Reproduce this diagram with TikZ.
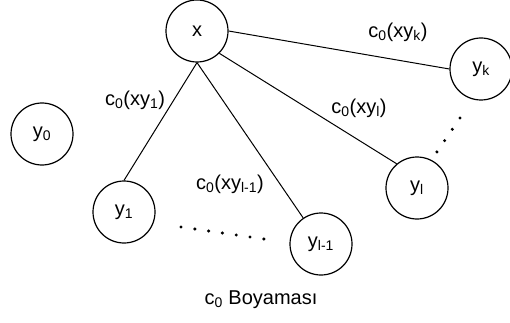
\documentclass[tikz,border=0pt]{standalone}
\usepackage{fontspec}
\setmainfont{Liberation Sans}
\begin{document}
\begin{tikzpicture}[x=1pt,y=-1pt,
  vertex/.style={circle,draw,line width=1.2pt,minimum size=62pt,inner sep=0pt},
  edge/.style={line width=1pt},
  lbl/.style={inner sep=0pt},
  dot/.style={circle,fill,inner sep=0pt,minimum size=3.4pt},
  every node/.style={font=\fontsize{20}{24}\selectfont}]
\useasboundingbox (0,0) rectangle (510,323);
% vertices
\node[vertex] (x)   at (197,31)  {x};
\node[vertex] (y0)  at (42,134)  {y\textsubscript{0}};
\node[vertex] (y1)  at (124,212) {y\textsubscript{1}};
\node[vertex] (yl1) at (321,244) {y\textsubscript{l-1}};
\node[vertex] (yl)  at (417,188) {y\textsubscript{l}};
\node[vertex] (yk)  at (481,69)  {y\textsubscript{k}};
% edges from x
\draw[edge] (x.south) -- (y1.north);
\draw[edge] (x.south) -- (yl1);
\draw[edge] (x.-45) -- (yl.130);
\draw[edge] (x.east) -- (yk.west);
% edge colour labels
\node[lbl] (l1)  at (135,100) {c\textsubscript{0}(xy\textsubscript{1})};
\node[lbl] (ll1) at (230,184) {c\textsubscript{0}(xy\textsubscript{l-1})};
\node[lbl] (ll)  at (359,108) {c\textsubscript{0}(xy\textsubscript{l})};
\node[lbl] (lk)  at (398,32)  {c\textsubscript{0}(xy\textsubscript{k})};
% ellipsis dots
\foreach \i in {0,...,6}
  \node[dot] (b\i) at (181+13.8*\i,227+2*\i) {};
\foreach \i in {0,...,3}
  \node[dot] (r\i) at (460-7.7*\i,118+11.3*\i) {};
% caption
\node[lbl] (cap) at (261,300) {c\textsubscript{0} Boyaması};
\end{tikzpicture}
\end{document}
